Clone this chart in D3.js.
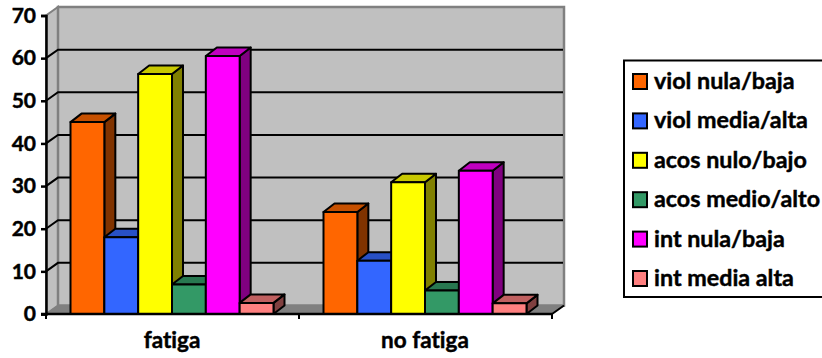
<!DOCTYPE html>
<html>
<head>
<meta charset="utf-8">
<script src="https://cdn.jsdelivr.net/npm/d3@7"></script>
<style>
  html, body { margin: 0; padding: 0; background: #fff; overflow: hidden; }
  svg { display: block; }
  text { font-family: Lato, "Open Sans", sans-serif; font-weight: 700; fill: #000; stroke: #000; stroke-width: 0.45px; font-variant-ligatures: none; }
</style>
</head>
<body>
<div id="chart"></div>
<script>
const categories = ["fatiga", "no fatiga"];
const seriesNames = ["viol nula/baja", "viol media/alta", "acos nulo/bajo", "acos medio/alto", "int nula/baja", "int media alta"];
const violNula = [45, 23.9];
const violMedia = [18, 12.5];
const acosNulo = [56.3, 30.9];
const acosMedio = [6.9, 5.5];
const intNula = [60.5, 33.6];
const intMedia = [2.6, 2.5];
const seriesValues = [violNula, violMedia, acosNulo, acosMedio, intNula, intMedia];
const frontColors = ["#ff6600", "#3366ff", "#ffff00", "#339966", "#ff00ff", "#ff8080"];
const topColors = ["#c65000", "#2850c6", "#c8c800", "#287850", "#c000c0", "#c06060"];
const sideColors = ["#803300", "#1a3380", "#808000", "#1a4d33", "#800080", "#804040"];
const yTicks = [0, 10, 20, 30, 40, 50, 60, 70];

const width = 822, height = 358;
const plotLeft = 46, plotRight = 552, plotBottom = 314, plotTop = 15.5;
const wallDx = 12, wallDy = 8.5;   // offset of the back wall from the front plane
const barDx = 11, barDy = 8.5;     // depth of each 3D column

const y = d3.scaleLinear().domain([0, 70]).range([plotBottom, plotTop]);
const x0 = d3.scaleBand().domain(categories).range([plotLeft, plotRight]);
const x1 = d3.scaleBand().domain(seriesNames).range([24.5, x0.bandwidth() - 25.5]);

const svg = d3.select("#chart").append("svg").attr("width", width).attr("height", height);
const pts = a => a.map(p => p.join(",")).join(" ");

// Back wall, side wall and floor of the 3D box
svg.append("polygon")
  .attr("points", pts([[plotLeft, plotBottom], [plotLeft + wallDx, plotBottom - wallDy], [plotLeft + wallDx, plotTop - wallDy], [plotLeft, plotTop]]))
  .attr("fill", "#c0c0c0").attr("stroke", "#808080").attr("stroke-width", 2);
svg.append("rect")
  .attr("x", plotLeft + wallDx).attr("y", plotTop - wallDy)
  .attr("width", plotRight - plotLeft).attr("height", plotBottom - plotTop)
  .attr("fill", "#c0c0c0").attr("stroke", "#808080").attr("stroke-width", 2.5);
svg.append("polygon")
  .attr("points", pts([[plotLeft, plotBottom], [plotLeft + wallDx, plotBottom - wallDy], [plotRight + wallDx, plotBottom - wallDy], [plotRight, plotBottom]]))
  .attr("fill", "#808080").attr("stroke", "#808080");

// Gridlines run along the side wall and across the back wall
yTicks.filter(d => d > 0 && d < 70).forEach(d => {
  svg.append("polyline")
    .attr("points", pts([[plotLeft, y(d)], [plotLeft + wallDx, y(d) - wallDy], [plotRight + wallDx - 1, y(d) - wallDy]]))
    .attr("fill", "none").attr("stroke", "#000").attr("stroke-width", 2);
});

// Columns, painted left to right so each one overlaps the previous depth faces
categories.forEach((cat, ci) => {
  seriesNames.forEach((name, si) => {
    const v = seriesValues[si][ci];
    const xa = x0(cat) + x1(name), xb = xa + x1.bandwidth();
    const yt = y(v), yb = y(0);
    const g = svg.append("g").attr("stroke", "#000").attr("stroke-width", 2).attr("stroke-linejoin", "round");
    g.append("polygon").attr("fill", sideColors[si])
      .attr("points", pts([[xb, yb], [xb + barDx, yb - barDy], [xb + barDx, yt - barDy], [xb, yt]]));
    g.append("polygon").attr("fill", topColors[si])
      .attr("points", pts([[xa, yt], [xa + barDx, yt - barDy], [xb + barDx, yt - barDy], [xb, yt]]));
    g.append("rect").attr("fill", frontColors[si])
      .attr("x", xa).attr("y", yt).attr("width", xb - xa).attr("height", yb - yt);
  });
});

// Value axis
const yAxis = svg.append("g").attr("transform", `translate(${plotLeft},0)`)
  .call(d3.axisLeft(y).tickValues(yTicks).tickSize(5).tickPadding(5));
yAxis.attr("font-family", null).attr("font-size", null);
yAxis.selectAll("path").attr("stroke", "#000").attr("stroke-width", 2.5);
yAxis.selectAll("line").attr("stroke", "#000").attr("stroke-width", 2.5);
yAxis.selectAll("text").style("font-size", "21px");

// Category axis with ticks on the band edges
svg.append("line").attr("x1", plotLeft - 5).attr("x2", plotRight).attr("y1", plotBottom).attr("y2", plotBottom)
  .attr("stroke", "#000").attr("stroke-width", 2.5);
categories.concat([null]).forEach(cat => {
  const tx = cat === null ? plotRight : x0(cat);
  svg.append("line").attr("x1", tx).attr("x2", tx).attr("y1", plotBottom).attr("y2", plotBottom + 5)
    .attr("stroke", "#000").attr("stroke-width", 2);
});
svg.append("line").attr("x1", plotRight).attr("x2", plotRight + wallDx).attr("y1", plotBottom).attr("y2", plotBottom - wallDy)
  .attr("stroke", "#000").attr("stroke-width", 2);
svg.selectAll("text.cat").data(categories).join("text").attr("class", "cat")
  .attr("x", d => x0(d) + x0.bandwidth() / 2 - 0.5).attr("y", 348)
  .attr("text-anchor", "middle").style("font-size", "22.5px").text(d => d);

// Legend
const legendLeft = 624, legendTop = 60.5, legendBottom = 297;
svg.append("rect").attr("x", legendLeft).attr("y", legendTop)
  .attr("width", 240).attr("height", legendBottom - legendTop)
  .attr("fill", "#fff").attr("stroke", "#000").attr("stroke-width", 2);
const rowY = d3.scalePoint().domain(seriesNames).range([81.5, 278.5]);
seriesNames.forEach((name, si) => {
  svg.append("rect").attr("x", 633).attr("y", rowY(name) - 7.5).attr("width", 14).attr("height", 15)
    .attr("fill", frontColors[si]).attr("stroke", "#000").attr("stroke-width", 2);
  svg.append("text").attr("x", 654).attr("y", rowY(name) + 7.5)
    .style("font-size", "23.3px").text(name);
});
</script>
</body>
</html>
